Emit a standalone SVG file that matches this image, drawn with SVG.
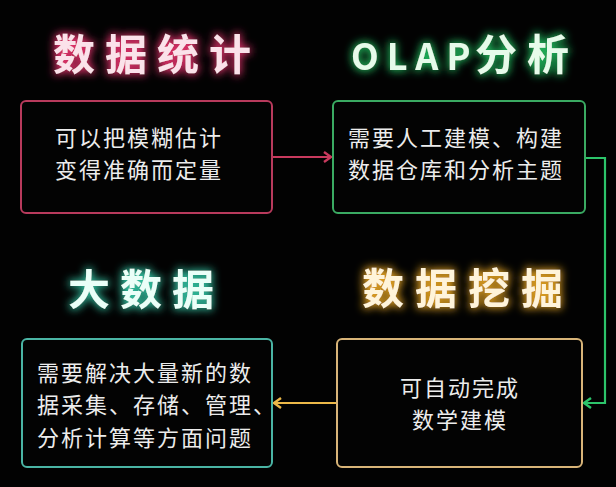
<svg xmlns="http://www.w3.org/2000/svg" width="616" height="487" viewBox="0 0 616 487">
  <style>
    .title { font-family: "Noto Sans CJK SC", "Noto Sans", sans-serif; font-weight: bold; font-size: 42px; }
    .body { font-family: "Noto Sans CJK SC", "Noto Sans", sans-serif; font-size: 22px; fill: #ececec; letter-spacing: 2px; }
    .box { fill: #030303; stroke-width: 2; }
    .conn { fill: none; stroke-width: 2.2; }
  </style>
  <defs>
    <filter id="glowPink" x="-20%" y="-40%" width="140%" height="180%">
      <feFlood flood-color="#e0306a" result="c"/>
      <feComposite in="c" in2="SourceAlpha" operator="in" result="s"/>
      <feMorphology in="s" operator="dilate" radius="1" result="d"/>
      <feGaussianBlur in="d" stdDeviation="4" result="b"/>
      <feMerge><feMergeNode in="b"/><feMergeNode in="SourceGraphic"/></feMerge>
    </filter>
    <filter id="glowGreen" x="-20%" y="-40%" width="140%" height="180%">
      <feFlood flood-color="#22c060" result="c"/>
      <feComposite in="c" in2="SourceAlpha" operator="in" result="s"/>
      <feMorphology in="s" operator="dilate" radius="1" result="d"/>
      <feGaussianBlur in="d" stdDeviation="4" result="b"/>
      <feMerge><feMergeNode in="b"/><feMergeNode in="SourceGraphic"/></feMerge>
    </filter>
    <filter id="glowTeal" x="-20%" y="-40%" width="140%" height="180%">
      <feFlood flood-color="#30c0a0" result="c"/>
      <feComposite in="c" in2="SourceAlpha" operator="in" result="s"/>
      <feMorphology in="s" operator="dilate" radius="1" result="d"/>
      <feGaussianBlur in="d" stdDeviation="4" result="b"/>
      <feMerge><feMergeNode in="b"/><feMergeNode in="SourceGraphic"/></feMerge>
    </filter>
    <filter id="glowGold" x="-20%" y="-40%" width="140%" height="180%">
      <feFlood flood-color="#e0a020" result="c"/>
      <feComposite in="c" in2="SourceAlpha" operator="in" result="s"/>
      <feMorphology in="s" operator="dilate" radius="1" result="d"/>
      <feGaussianBlur in="d" stdDeviation="4" result="b"/>
      <feMerge><feMergeNode in="b"/><feMergeNode in="SourceGraphic"/></feMerge>
    </filter>
    <marker id="arrPink" markerUnits="userSpaceOnUse" markerWidth="12" markerHeight="14" refX="9" refY="6" orient="auto" viewBox="0 0 12 12">
      <path d="M2,1 L9,6 L2,11" fill="none" stroke="#c83a5e" stroke-width="2.4"/>
    </marker>
    <marker id="arrGreen" markerUnits="userSpaceOnUse" markerWidth="12" markerHeight="14" refX="9" refY="6" orient="auto" viewBox="0 0 12 12">
      <path d="M2,1 L9,6 L2,11" fill="none" stroke="#2cc46a" stroke-width="2.4"/>
    </marker>
    <marker id="arrGold" markerUnits="userSpaceOnUse" markerWidth="12" markerHeight="14" refX="9" refY="6" orient="auto" viewBox="0 0 12 12">
      <path d="M2,1 L9,6 L2,11" fill="none" stroke="#ecb848" stroke-width="2.4"/>
    </marker>
  </defs>

  <rect x="0" y="0" width="616" height="487" fill="#020202"/>

  <g id="connectors">
    <path class="conn" d="M272,157 L331,157" stroke="#c83a5e" marker-end="url(#arrPink)"/>
    <path class="conn" d="M585,158 L605,158 L605,403 L584,403" stroke="#2cc46a" marker-end="url(#arrGreen)"/>
    <path class="conn" d="M337,403 L274,403" stroke="#ecb848" marker-end="url(#arrGold)"/>
  </g>

  <g id="node-stats">
    <text class="title" x="53" y="70" fill="#fbe2ea" letter-spacing="10" filter="url(#glowPink)">数据统计</text>
    <rect class="box" x="21" y="101" width="251" height="112" rx="5" stroke="#b83a5c"/>
    <text class="body" x="55" y="146">可以把模糊估计</text>
    <text class="body" x="55" y="178">变得准确而定量</text>
  </g>

  <g id="node-olap">
    <text class="title" y="70" fill="#e6fbea" filter="url(#glowGreen)"><tspan x="351" font-size="36" letter-spacing="8">OLAP</tspan><tspan x="475" letter-spacing="10">分析</tspan></text>
    <rect class="box" x="333" y="101" width="252" height="112" rx="5" stroke="#3aaa62"/>
    <text class="body" x="348" y="146">需要人工建模、构建</text>
    <text class="body" x="348" y="178">数据仓库和分析主题</text>
  </g>

  <g id="node-bigdata">
    <text class="title" x="68" y="305" font-size="40" fill="#eafff8" letter-spacing="10" filter="url(#glowTeal)">大数据</text>
    <rect class="box" x="22" y="339" width="250" height="128" rx="5" stroke="#4ab4a4"/>
    <text class="body" x="37" y="381">需要解决大量新的数</text>
    <text class="body" x="37" y="413">据采集、存储、管理、</text>
    <text class="body" x="37" y="446">分析计算等方面问题</text>
  </g>

  <g id="node-mining">
    <text class="title" x="362" y="304" font-size="40" fill="#fff4da" letter-spacing="11" filter="url(#glowGold)">数据挖掘</text>
    <rect class="box" x="337" y="339" width="245" height="128" rx="5" stroke="#d8b478"/>
    <text class="body" x="460" y="396" text-anchor="middle">可自动完成</text>
    <text class="body" x="460" y="428" text-anchor="middle">数学建模</text>
  </g>
</svg>
